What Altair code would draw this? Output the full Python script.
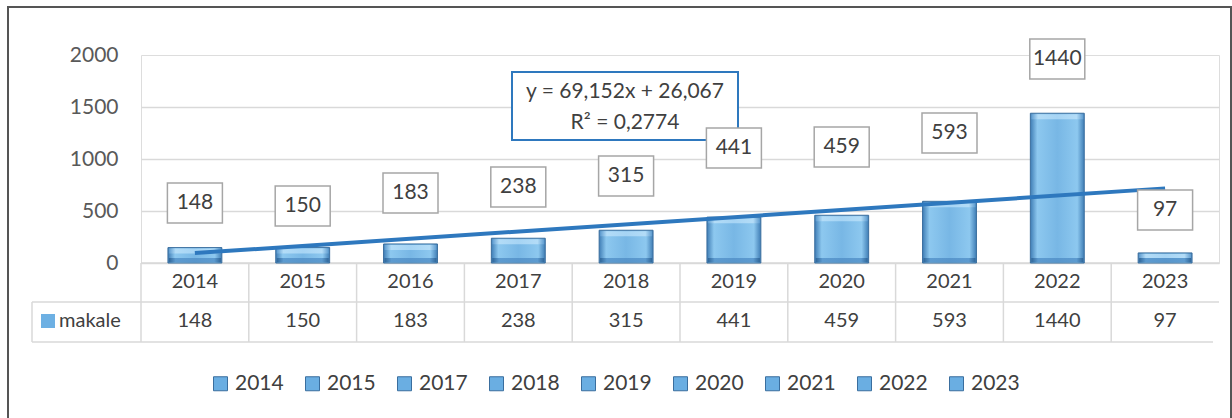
import altair as alt
import pandas as pd

# ---- data ----
years = [2014, 2015, 2016, 2017, 2018, 2019, 2020, 2021, 2022, 2023]
makale = [148, 150, 183, 238, 315, 441, 459, 593, 1440, 97]
# vertical centre of each value box, in data units (boxes placed by hand in the source)
label_pos = [577, 548, 673, 731, 837, 1106, 1115, 1250, 1962, 510]
legend_years = ["2014", "2015", "2017", "2018", "2019", "2020", "2021", "2022", "2023"]
y_ticks = [0, 500, 1000, 1500, 2000]
series_name = "makale"
equation_lines = ["y = 69,152x + 26,067", "R² = 0,2774"]

FONT = "Lato"
TXT = "#404040"
GRID = "#D9D9D9"
BLUE = "#2E78BE"

df = pd.DataFrame({"year": years, "makale": makale, "lab": label_pos})
leg_df = pd.DataFrame({"yr": legend_years})

W, H = 1078, 208
xs = alt.Scale(paddingInner=0, paddingOuter=0)
X = alt.X("year:O", scale=xs, axis=None)

base = alt.Chart(df)

# outer frame
frame = base.mark_rect(fill=None, stroke="#555555", strokeWidth=2).encode(
    x=alt.value(8 - 141), x2=alt.value(1231 - 141),
    y=alt.value(7 - 55), y2=alt.value(430 - 55)
)

def hgrad(edge, mid, face):
    return alt.Gradient(
        gradient="linear", x1=0, x2=1, y1=0, y2=0,
        stops=[
            alt.GradientStop(color=edge, offset=0),
            alt.GradientStop(color=mid, offset=0.13),
            alt.GradientStop(color=face, offset=0.5),
            alt.GradientStop(color=mid, offset=0.87),
            alt.GradientStop(color=edge, offset=1),
        ],
    )

bars = base.mark_bar(width=alt.RelativeBandSize(0.5),
                     fill=hgrad("#3F7DB5", "#8DC8EF", "#78B7E5"),
                     stroke="#3A6E9E", strokeWidth=1).encode(
    x=X,
    y=alt.Y("makale:Q",
            scale=alt.Scale(domain=[0, 2000], nice=False),
            axis=alt.Axis(values=y_ticks, title=None, ticks=False, domain=False,
                          format="d",
                          labelFont=FONT, labelFontSize=21, labelColor="#595959",
                          labelPadding=23, gridColor=GRID, gridWidth=1.5,
                          gridOpacity=alt.condition("datum.value >= 2000",
                                                    alt.value(0), alt.value(1)))),
)
# bevel strips (top lighter, bottom darker)
bevel_top = base.mark_bar(width=alt.RelativeBandSize(0.5) if False else 52,
                          fill=hgrad("#5E9BCF", "#B3DCF7", "#A6D4F4"),
                          y2Offset=6, yOffset=1).encode(
    x=X, y="makale:Q", y2="makale")
bevel_bot = base.mark_bar(width=52, fill=hgrad("#2F6699", "#5D9BD0", "#5896CC"),
                          yOffset=-5, y2Offset=-1).encode(
    x=X, y=alt.datum(0), y2=alt.datum(0))

trend = base.transform_regression("year", "makale", extent=[2014, 2023]).mark_line(
    color=BLUE, strokeWidth=4
).encode(x=X, y=alt.Y("makale:Q"))

box_shape = "M-1,-0.727L1,-0.727L1,0.727L-1,0.727Z"
label_box = base.mark_point(shape=box_shape, size=3025, filled=True, fill="white",
                            stroke="#A6A6A6", strokeWidth=1.5, opacity=1).encode(
    x=X, y=alt.Y("lab:Q"))
label_txt = base.mark_text(font=FONT, fontSize=21, color=TXT, baseline="middle").encode(
    x=X, y=alt.Y("lab:Q"), text="makale:Q")

# equation box (annotation placed by hand in the source)
one = base.transform_filter("datum.year == 2014")
eq_box = one.mark_rect(fill="white", stroke=BLUE, strokeWidth=2).encode(
    x=alt.value(512 - 141), x2=alt.value(738 - 141),
    y=alt.value(72 - 55), y2=alt.value(140 - 55))
eq_txt1 = one.mark_text(font=FONT, fontSize=21, color=TXT, baseline="middle").encode(
    x=alt.value(625 - 141), y=alt.value(92 - 55), text=alt.value(equation_lines[0]))
eq_txt2 = one.mark_text(font=FONT, fontSize=21, color=TXT, baseline="middle").encode(
    x=alt.value(625 - 141), y=alt.value(123 - 55), text=alt.value(equation_lines[1]))

# data table
hline0 = one.mark_rule(color=GRID, strokeWidth=1.5).encode(
    x=alt.value(0), x2=alt.value(W), y=alt.value(208))
hline1 = one.mark_rule(color=GRID, strokeWidth=1.5).encode(
    x=alt.value(32 - 141), x2=alt.value(W), y=alt.value(247))
hline2 = one.mark_rule(color=GRID, strokeWidth=1.5).encode(
    x=alt.value(32 - 141), x2=alt.value(W - 6), y=alt.value(287))
vline_left = one.mark_rule(color=GRID, strokeWidth=1.5).encode(
    x=alt.value(32 - 141), y=alt.value(247), y2=alt.value(287))
vlines = base.mark_rule(color=GRID, strokeWidth=1.5).encode(
    x=alt.X("year:O", scale=xs, axis=None, bandPosition=0),
    y=alt.value(208), y2=alt.value(287))
year_txt = base.mark_text(font=FONT, fontSize=20, color=TXT, baseline="middle").encode(
    x=X, y=alt.value(227), text="year:N")
val_txt = base.mark_text(font=FONT, fontSize=20, color=TXT, baseline="middle").encode(
    x=X, y=alt.value(266), text="makale:Q")
key_sq = one.mark_square(size=196, color="#6DB0E3", opacity=1).encode(
    x=alt.value(48 - 141), y=alt.value(266))
key_txt = one.mark_text(
    font=FONT, fontSize=20, color=TXT, baseline="middle", align="left").encode(
    x=alt.value(59 - 141), y=alt.value(266), text=alt.value(series_name))

# bottom legend
legend_layer = alt.Chart(leg_df).mark_square(opacity=0).encode(
    x=alt.value(0), y=alt.value(0),
    color=alt.Color("yr:N",
                    scale=alt.Scale(domain=legend_years, range=["#6AAEE2"] * len(legend_years)),
                    legend=alt.Legend(orient="none", legendX=210 - 141, legendY=373 - 55,
                                      direction="horizontal", title=None,
                                      symbolType="square", symbolSize=196,
                                      symbolOpacity=1, symbolStrokeColor="#3A6E9E",
                                      symbolStrokeWidth=1, labelFont=FONT,
                                      labelFontSize=21, labelColor=TXT,
                                      labelOffset=4, columnPadding=18, padding=0)))

chart = alt.layer(
    frame, hline0, hline1, hline2, vline_left, vlines,
    bars, bevel_top, bevel_bot, trend, eq_box, eq_txt1, eq_txt2, label_box, label_txt,
    year_txt, val_txt, key_sq, key_txt, legend_layer
).properties(
    width=W, height=H,
    autosize=alt.AutoSizeParams(type="none"),
    padding={"left": 141, "top": 55, "right": 13, "bottom": 155},
).configure_view(stroke=None).configure(background="white")

chart.save("out.html", embed_options={"renderer": "svg", "actions": False})
